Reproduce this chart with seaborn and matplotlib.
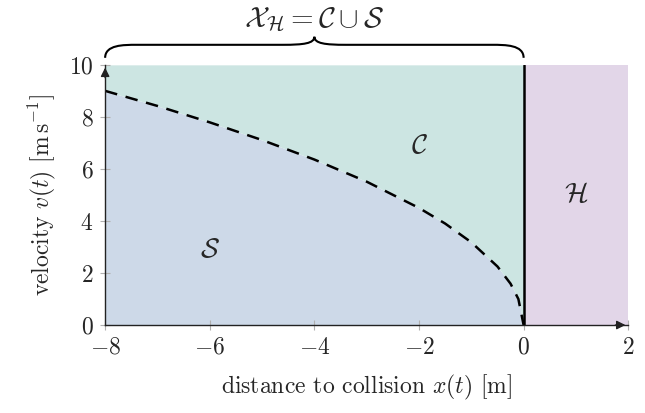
import numpy as np
import pandas as pd
import matplotlib
matplotlib.use("Agg")
import matplotlib.pyplot as plt
import seaborn as sns
from matplotlib.path import Path
from matplotlib.patches import PathPatch
import matplotlib.transforms as mtransforms

# ---- data ----
boundary_x = [-8.0, -7.0, -6.0, -5.0, -4.0, -3.0, -2.0, -1.5, -1.0, -0.5, -0.25, -0.1, 0.0]
boundary_v = [9.0, 8.42, 7.79, 7.11, 6.36, 5.51, 4.5, 3.9, 3.18, 2.25, 1.59, 1.0, 0.0]
x_ticks = [-8, -6, -4, -2, 0, 2]
y_ticks = [0, 2, 4, 6, 8, 10]
x_min, x_max = -8, 2
v_max = 10
hazard_start = 0

sns.set_theme(style="white")
plt.rcParams["font.family"] = ["serif"]
plt.rcParams["font.serif"] = ["cmr10", "DejaVu Serif"]
plt.rcParams["mathtext.fontset"] = "cm"
plt.rcParams["axes.formatter.use_mathtext"] = True

col_C = "#cce5e2"
col_S = "#cdd9e8"
col_H = "#e2d6e8"

fig = plt.figure(figsize=(6.45, 4.13), dpi=100)
ax = fig.add_axes([0.163, 0.213, 0.811, 0.630])

df = pd.DataFrame({"x": boundary_x, "v": boundary_v})
bx = np.array(boundary_x)
bv = np.array(boundary_v)

ax.fill_between(bx, 0, bv, color=col_S, lw=0, zorder=0)
ax.fill_between(bx, bv, v_max, color=col_C, lw=0, zorder=0)
ax.fill_between([hazard_start, x_max], 0, v_max, color=col_H, lw=0, zorder=0)

sns.lineplot(data=df, x="x", y="v", ax=ax, color="black", lw=1.8,
             linestyle=(0, (5, 3.5)), zorder=3)
ax.plot([hazard_start, hazard_start], [0, v_max], color="black", lw=1.8, zorder=4)

ax.set_xlim(x_min, x_max)
ax.set_ylim(0, v_max)
ax.set_xticks(x_ticks)
ax.set_yticks(y_ticks)
ax.tick_params(axis="both", direction="inout", length=7, width=0.8,
               color="#b0b0b0", labelsize=17, pad=5, left=True, bottom=True)
ax.set_xlabel(r"distance to collision $x(t)$ [m]", fontsize=17, labelpad=10)
ax.set_ylabel(r"velocity $v(t)$ [$\mathrm{m\,s^{-1}}$]", fontsize=17, labelpad=8)

for s in ["top", "right"]:
    ax.spines[s].set_visible(False)
for s in ["left", "bottom"]:
    ax.spines[s].set_color("#222222")
    ax.spines[s].set_linewidth(1.0)
    ax.spines[s].set_zorder(5)

# arrows on axes
ax.annotate("", xy=(x_max, 0), xytext=(x_max - 0.3, 0),
            arrowprops=dict(arrowstyle="-|>", color="#222222", lw=1.0,
                            mutation_scale=13), annotation_clip=False, zorder=6)
ax.annotate("", xy=(x_min, v_max), xytext=(x_min, v_max - 0.6),
            arrowprops=dict(arrowstyle="-|>", color="#222222", lw=1.0,
                            mutation_scale=13), annotation_clip=False, zorder=6)

# region labels
ax.text(-2.0, 6.9, r"$\mathcal{C}$", fontsize=20, ha="center", va="center")
ax.text(-6.0, 2.9, r"$\mathcal{S}$", fontsize=20, ha="center", va="center")
ax.text(1.0, 5.0, r"$\mathcal{H}$", fontsize=20, ha="center", va="center")

# curly brace above the plot (x in data, y in axes coords)
trans = mtransforms.blended_transform_factory(ax.transData, ax.transAxes)
xl, xr = x_min, hazard_start
xm = (xl + xr) / 2
y0, y1, y2 = 1.027, 1.077, 1.108
q = 0.35
verts = [
    (xl, y0), (xl, y1), (xl + q, y1), (xl + 0.6, y1),
    (xm - 0.6, y1), (xm - q * 0.6, y1), (xm, y1 + 0.005), (xm, y2),
    (xm, y1 + 0.005), (xm + q * 0.6, y1), (xm + 0.6, y1),
    (xr - 0.6, y1), (xr - q, y1), (xr, y1), (xr, y0),
]
codes = [Path.MOVETO, Path.CURVE4, Path.CURVE4, Path.CURVE4,
         Path.LINETO, Path.CURVE4, Path.CURVE4, Path.CURVE4,
         Path.CURVE4, Path.CURVE4, Path.CURVE4,
         Path.LINETO, Path.CURVE4, Path.CURVE4, Path.CURVE4]
brace = PathPatch(Path(verts, codes), transform=trans, fill=False,
                  edgecolor="black", lw=1.5, clip_on=False)
ax.add_patch(brace)
ax.text(xm, 1.175, r"$\mathcal{X}_\mathcal{H} = \mathcal{C} \cup \mathcal{S}$",
        transform=trans, fontsize=21, ha="center", va="center")

fig.savefig("out.png", dpi=100)
